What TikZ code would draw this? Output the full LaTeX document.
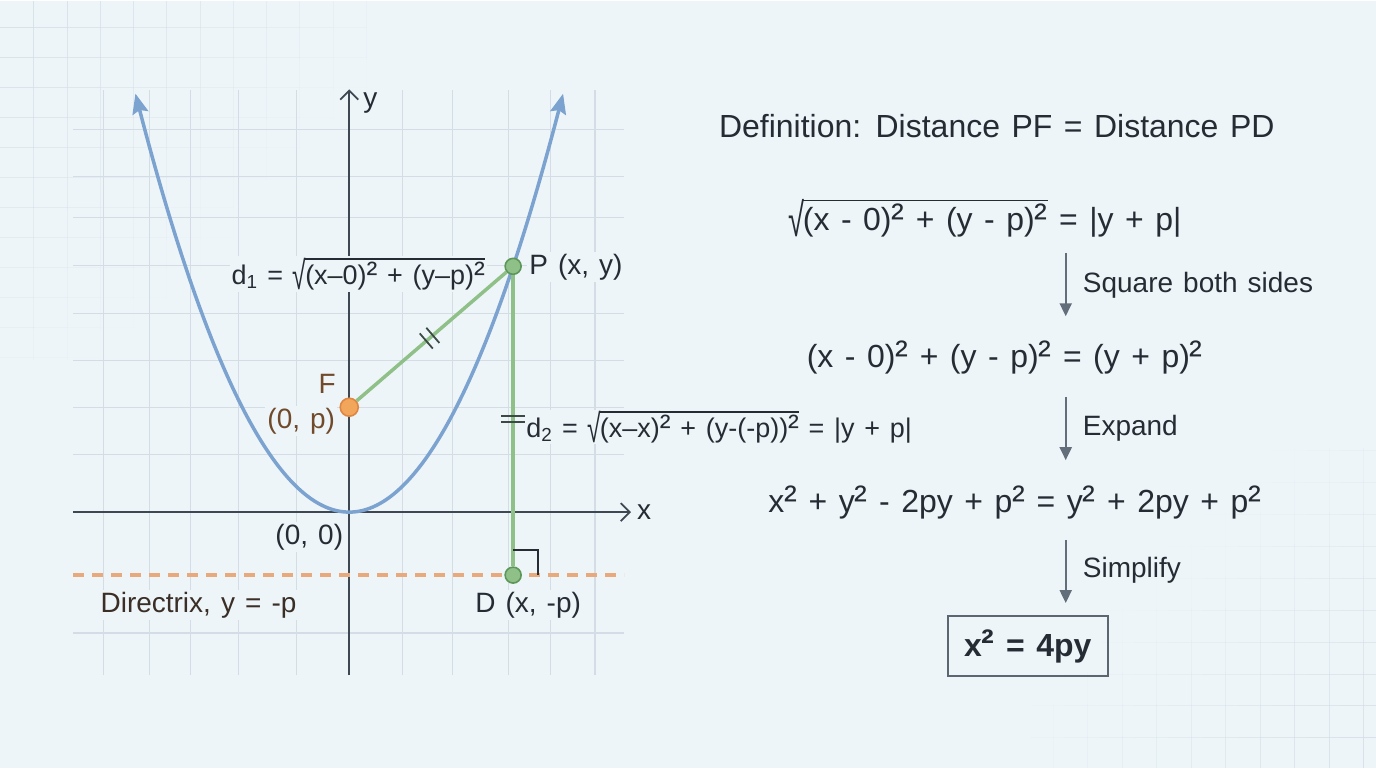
\documentclass[tikz,border=0pt]{standalone}
\usepackage{graphicx}
\usepackage{fontspec}
\setmainfont{Liberation Sans}
\usetikzlibrary{arrows.meta,calc}
\definecolor{Bg}{RGB}{238,245,249}
\definecolor{GridLine}{RGB}{212,221,229}
\definecolor{BgGrid}{RGB}{214,224,232}
\definecolor{Curve}{RGB}{124,163,208}
\definecolor{Seg}{RGB}{143,192,135}
\definecolor{SegDark}{RGB}{92,150,88}
\definecolor{Focus}{RGB}{242,166,92}
\definecolor{FocusDark}{RGB}{222,134,66}
\definecolor{Dirx}{RGB}{232,170,124}
\definecolor{Ink}{RGB}{38,44,52}
\definecolor{AxisInk}{RGB}{62,72,82}
\definecolor{Brown}{RGB}{112,74,42}
\definecolor{DarkBrown}{RGB}{58,46,38}
\definecolor{StepInk}{RGB}{98,110,122}
\definecolor{BoxLine}{RGB}{92,102,112}
\newcommand{\setfs}[1]{\fontsize{#1}{#1}\selectfont\spaceskip=0.36em\relax}
\makeatletter
\newcommand{\sqd}{{\@tempdima=\f@size pt\@tempdima=1.2\@tempdima
    \fontsize{\strip@pt\@tempdima}{\f@baselineskip}\selectfont ²}}
\makeatother
% radical sign stretched to the height of its argument
\newsavebox{\radbox}
\newcommand{\radic}[1]{%
    \sbox{\radbox}{#1}%
    \raisebox{-\dp\radbox}{\resizebox*{0.5em}{\dimexpr\ht\radbox+\dp\radbox+0.13em\relax}{√}}%
    \kern-0.04em
    \vbox{\hrule height 0.05em \kern 0.08em \copy\radbox}}

\begin{document}
\begin{tikzpicture}[x=1pt, y=-1pt,
    gridline/.style={draw=GridLine, line width=1.2pt},
    bggrid/.style={draw=BgGrid, line width=1pt},
    axisline/.style={draw=AxisInk, line width=1.8pt, -{Straight Barb[length=9pt,width=18pt]}},
    curve/.style={draw=Curve, line width=3.5pt,
        {Stealth[length=20pt,width=16pt,inset=3pt]}-{Stealth[length=20pt,width=16pt,inset=3pt]}},
    seg/.style={draw=Seg, line width=3.5pt},
    tick/.style={draw=Ink!80!Seg, line width=1.8pt},
    dot/.style={circle, minimum size=16pt, inner sep=0pt, line width=1.6pt},
    lbl/.style={text=Ink, font=\setfs{28}, fill=Bg, inner sep=2pt},
    eqn/.style={text=Ink, font=\setfs{32}, inner sep=0pt},
    steparrow/.style={draw=StepInk, line width=2pt, -{Triangle[length=13pt,width=12pt]}},
    steplbl/.style={anchor=base west, text=Ink, font=\setfs{28}, inner sep=0pt}]

    %% Background
    \fill[Bg] (0,0) rectangle (1376,768);
    % faint grid, fading away from the top left corner
    \foreach \i in {1,...,11}
        \foreach \j in {0,...,11}{
            \pgfmathsetmacro\op{max(0,1-(33.3*\i+30*\j+15)/460)}
            \draw[bggrid, opacity=\op] ({33.3*\i},{30*\j}) to ({33.3*\i},{30*\j+30});
            \draw[bggrid, opacity=\op] ({33.3*\i-33.3},{27+30*\j}) to ({33.3*\i},{27+30*\j});
        }
    % and from the bottom right corner
    \foreach \i in {0,...,9}
        \foreach \j in {0,...,9}{
            \pgfmathsetmacro\op{max(0,0.9-(34.5*\i+32*\j+16)/430)}
            \draw[bggrid, opacity=\op] ({1376-12-34.5*\i},{768-32*\j}) to ({1376-12-34.5*\i},{768-32*\j-32});
            \draw[bggrid, opacity=\op] ({1376-34.5*\i},{768-30-32*\j}) to ({1376-34.5*\i-34.5},{768-30-32*\j});
        }

    %% Plot grid
    \foreach \gx in {103,149,190,238,296,402,452,508,550,595}
        \draw[gridline] (\gx,90) to (\gx,675);
    \foreach \gy in {129,176,217,265,313,360,407,454,633}
        \draw[gridline] (73,\gy) to (624,\gy);

    %% Axes
    \draw[axisline] (73,512) to (631,512);
    \draw[axisline] (349,675) to (349,89);

    %% Labels
    \node[lbl, fill=none, anchor=west] (ylab) at (361,103) {y};
    \node[lbl, fill=none, anchor=west] (xlab) at (635,512) {x};
    \node[lbl] (origin) at (309,537) {(0, 0)};
    \node[lbl, text=Brown] (Fname) at (327,384) {F};
    \node[lbl, text=Brown, anchor=east] (Fcoord) at (337,421) {(0, p)};
    \node[lbl, anchor=west] (Pname) at (527,267) {P (x, y)};
    \node[lbl] (Dname) at (528,605) {D (x, -p)};
    \node[lbl, text=DarkBrown, anchor=west] (dirlbl) at (98,605) {Directrix, y = -p};
    \node[lbl, font=\setfs{27}, anchor=base east] (dOne) at (487,284)
        {d\textsubscript{1} = \radic{(x–0)\sqd{} + (y–p)\sqd}};
    \node[lbl, font=\setfs{27}, anchor=base west, inner sep=1pt] (dTwo) at (525,437)
        {d\textsubscript{2} = \radic{(x–x)\sqd{} + (y-(-p))\sqd} = |y + p|};

    %% Directrix
    \draw[Dirx, line width=4pt, dash pattern=on 11pt off 8pt] (73,575) to (624,575);

    %% Parabola
    \draw[curve] plot[domain=-2.14:2.14, samples=120, smooth] ({349+100*\x}, {512-91.46*\x*\x});

    %% Points
    \node[dot, fill=Focus, draw=FocusDark, minimum size=18pt] (F) at (349,407) {};
    \node[dot, fill=Seg, draw=SegDark] (P) at (513,266) {};
    \node[dot, fill=Seg, draw=SegDark] (D) at (513,575) {};

    %% Distances
    \draw[seg] (F) to (P);
    \draw[seg] (P) to (D);
    \coordinate (t1) at ($(F)!0.47!(P)$);
    \coordinate (t2) at ($(F)!0.51!(P)$);
    \draw[tick] ($(t1)!10pt!90:(P)$) to ($(t1)!10pt!-90:(P)$);
    \draw[tick] ($(t2)!10pt!90:(P)$) to ($(t2)!10pt!-90:(P)$);
    \coordinate (mPD) at (513,419);
    \draw[tick]
    ($(mPD)+(-12,-3)$) to ($(mPD)+(12,-3)$)
    ($(mPD)+(-12,3)$) to ($(mPD)+(12,3)$)
    ;
    \draw[Ink, line width=1.8pt] ($(D)+(0,-25)$) to ($(D)+(25,-25)$) to ($(D)+(25,0)$);

    %% Derivation
    \node[eqn, anchor=base] (defn) at (997,137) {Definition: Distance PF = Distance PD};
    \node[eqn, anchor=base] (eqA) at (985,230) {\radic{(x - 0)\sqd{} + (y - p)\sqd} = |y + p|};
    \node[eqn, anchor=base] (eqB) at (1005,367) {(x - 0)\sqd{} + (y - p)\sqd{} = (y + p)\sqd};
    \node[eqn, anchor=base] (eqC) at (1015,512) {x\sqd{} + y\sqd{} - 2py + p\sqd{} = y\sqd{} + 2py + p\sqd};
    \node[draw=BoxLine, line width=2pt, text=Ink, font=\bfseries\setfs{32},
        minimum width=160pt, minimum height=60pt] (result) at (1028,646) {x\sqd{} = 4py};

    \coordinate (sA1) at (1066,253);
    \coordinate (sA2) at (1066,316);
    \coordinate (sB1) at (1066,397);
    \coordinate (sB2) at (1066,460);
    \coordinate (sC1) at (1066,540);
    \coordinate (sC2) at (1066,603);
    \draw[steparrow] (sA1) to (sA2);
    \draw[steparrow] (sB1) to (sB2);
    \draw[steparrow] (sC1) to (sC2);
    \node[steplbl] (stepA) at (1083,292) {Square both sides};
    \node[steplbl] (stepB) at (1083,435) {Expand};
    \node[steplbl] (stepC) at (1083,577) {Simplify};

\end{tikzpicture}
\end{document}
